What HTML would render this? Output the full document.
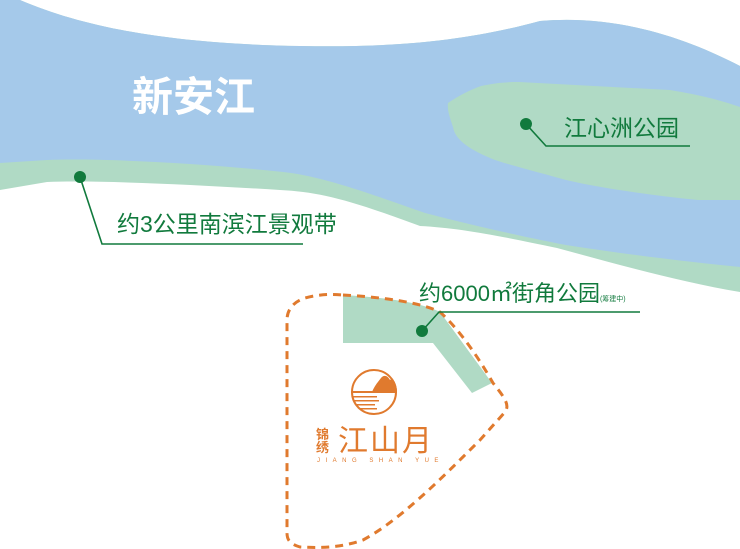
<!DOCTYPE html>
<html><head><meta charset="utf-8"><style>
html,body{margin:0;padding:0;background:#fff}
body{width:740px;height:549px;position:relative;overflow:hidden;font-family:"Liberation Sans","Noto Sans CJK SC",sans-serif}
.t{position:absolute;white-space:nowrap;line-height:1}
</style></head><body>
<svg width="740" height="549" style="position:absolute;left:0;top:0">
<path d="M0,0 L20,0 C90,30 180,44 300,46 C400,48 470,40 540,21 C620,14 690,40 740,66 L740,292 C680,282 620,265 557,248 C500,236 460,228 420,226 C350,200 320,192 280,190 C200,185 100,180 47,182 L0,190 Z" fill="#b0dac5"/>
<path d="M0,0 L20,0 C90,30 180,44 300,46 C400,48 470,40 540,21 C620,14 690,40 740,66 L740,267 C690,262 630,255 566,245 C500,232 460,222 425,213 C360,190 320,176 283,172 C200,163 100,158 47,160 L0,163 Z" fill="#a5c9ea"/>
<path d="M448,103 C460,95 470,90 481,86 C495,83 505,82 519,82 L670,90 C700,95 720,100 740,107 L740,200 L698,200 C650,195 600,188 566,180 C530,170 510,165 495,160 C470,150 455,140 453,127 C450,118 447,110 448,103 Z" fill="#b0dac5"/>
<path d="M343,295 C380,297 420,302 440,312 L492,383 L472,393 L433,343 L343,343 Z" fill="#b0dac5"/>
<path d="M343,295 C380,297 420,302 440,312 C460,330 480,360 493,383 C505,398 510,405 505,412 L480,440 C440,480 400,520 363,540 C340,548 320,548 300,547 C290,544 287,540 287,533 L287,320 C287,310 293,302 305,298 C320,294 332,294 343,295" fill="none" stroke="#e07a2e" stroke-width="3" stroke-dasharray="8,6"/>
<g stroke="#117a3d" stroke-width="1.6" fill="none">
<path d="M526,124 L546,146 L690,146"/>
<path d="M80,177 L102,244 L303,244"/>
<path d="M422,331 L439,312 L640,312"/>
</g>
<g fill="#117a3d"><circle cx="526" cy="124" r="6"/><circle cx="80" cy="177" r="6"/><circle cx="422" cy="331" r="6"/></g>
<defs><clipPath id="c"><circle cx="374" cy="392" r="23"/></clipPath></defs>
<g clip-path="url(#c)">
<path d="M372,392 C375,385 378,382 381,378 C384,374 388,376 390,380 C392,378 395,380 397,385 L397,392Z" fill="#e07a2e"/>
<g fill="#e07a2e"><rect x="351" y="391" width="46" height="2"/><rect x="351" y="396" width="26" height="1.5"/><rect x="351" y="400" width="28" height="1.5"/><rect x="351" y="404" width="24" height="1.5"/><rect x="351" y="408" width="26" height="1.5"/></g>
</g>
<circle cx="374" cy="392" r="22" fill="none" stroke="#e07a2e" stroke-width="2"/>
</svg>
<div class="t" style="left:132px;top:77px;font-size:41px;font-weight:bold;color:#fff">新安江</div>
<div class="t" style="left:564px;top:117px;font-size:23px;color:#117a3d">江心洲公园</div>
<div class="t" style="left:117px;top:213px;font-size:23px;color:#117a3d">约3公里南滨江景观带</div>
<div class="t" style="left:419px;top:283px;font-size:22px;color:#117a3d">约6000㎡街角公园<span style="font-size:7px">(筹建中)</span></div>
<div class="t" style="left:316px;top:428px;font-size:13px;color:#e07a2e;font-weight:bold;line-height:13px;width:14px">锦<br>绣</div>
<div class="t" style="left:338px;top:427px;font-size:30px;color:#e07a2e;letter-spacing:2px">江山月</div>
<div class="t" style="left:317px;top:458px;font-size:6px;color:#e07a2e;letter-spacing:5.5px">JIANG SHAN YUE</div>
</body></html>
